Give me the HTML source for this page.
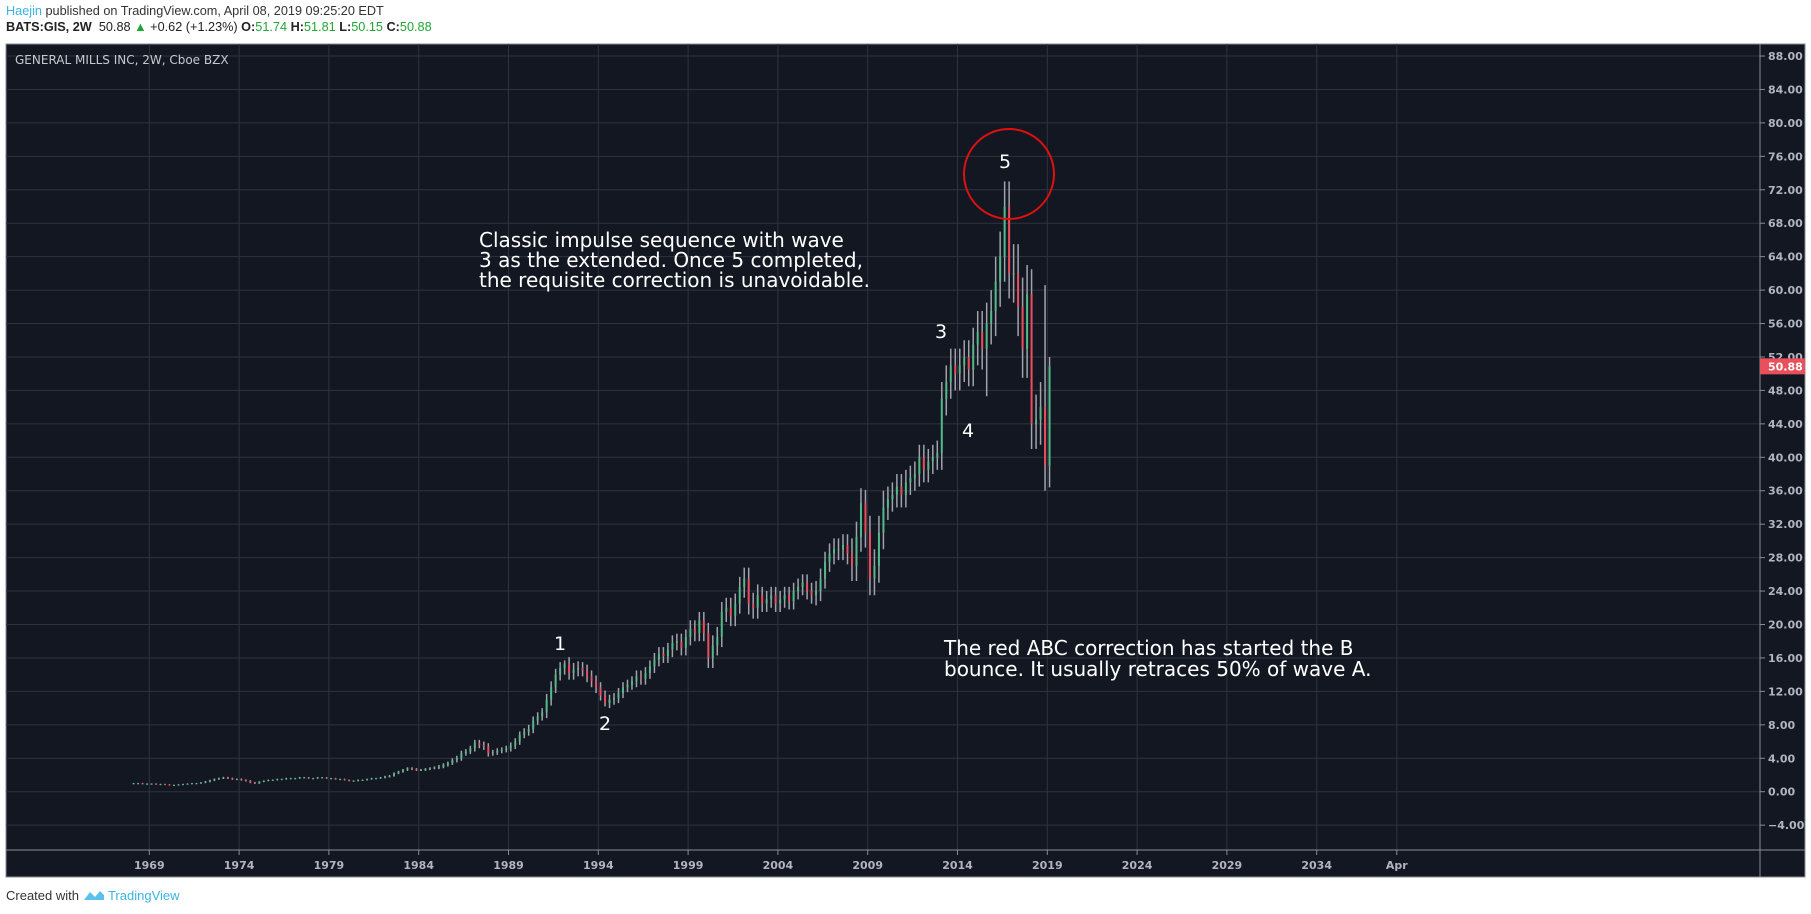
<!DOCTYPE html>
<html><head><meta charset="utf-8">
<style>
html,body{margin:0;padding:0;background:#fff;width:1811px;height:914px;overflow:hidden;font-family:"Liberation Sans",sans-serif;}
#hdr1{position:absolute;left:6px;top:4px;font-size:12.7px;color:#333;}
#hdr2{position:absolute;left:6px;top:20px;font-size:12.7px;color:#222;}
#foot{position:absolute;left:6px;top:888px;font-size:13px;color:#333;}
.g{color:#1ea634}
svg{position:absolute;left:0;top:0}
</style></head><body>
<div id="hdr1"><span style="color:#3bb3e4">Haejin</span> published on TradingView.com, April 08, 2019 09:25:20 EDT</div>
<div id="hdr2"><b>BATS:GIS, 2W</b>&nbsp; 50.88 <span class="g">&#9650;</span> +0.62 (+1.23%) <b>O:</b><span class="g">51.74</span> <b>H:</b><span class="g">51.81</span> <b>L:</b><span class="g">50.15</span> <b>C:</b><span class="g">50.88</span></div>
<svg id="chart" width="1811" height="914"></svg>
<div id="foot">Created with <span style="color:#3bb3e4"><svg width="22" height="12" style="position:relative;top:1px;left:0" viewBox="0 0 22 12"><path d="M1 11 L7 3 L12 8 L17 2 L21 6 L21 11 Z" fill="#5bc0eb"/></svg> TradingView</span></div>
<script>
// quarterly closes 1968Q1 .. 2019Q1
const closes = [
1.0,1.0,0.95,0.95, 0.95,0.9,0.9,0.85, 0.8,0.8,0.85,0.9, 0.95,1.0,1.0,1.1,
1.2,1.35,1.5,1.6, 1.7,1.6,1.5,1.5, 1.4,1.3,1.1,1.0, 1.2,1.3,1.4,1.4,
1.5,1.5,1.6,1.6, 1.6,1.7,1.7,1.6, 1.6,1.7,1.7,1.6, 1.6,1.5,1.5,1.4,
1.3,1.3,1.4,1.4, 1.5,1.6,1.6,1.7, 1.8,1.9,2.2,2.4, 2.6,2.8,2.7,2.6,
2.6,2.7,2.8,2.9, 3.0,3.2,3.4,3.8, 4.0,4.6,4.8,5.2, 5.8,5.6,5.4,4.6,
4.7,4.9,5.0,5.2, 5.5,6.0,6.8,7.2, 7.5,8.5,9.0,9.5, 11.0,12.5,14.0,14.8,
15.3,14.2,14.6,14.8, 14.5,13.8,13.2,12.5, 11.5,10.6,11.0,11.2, 11.8,12.5,12.8,13.2,
13.8,13.5,14.2,15.0, 15.8,16.5,16.2,17.0, 17.8,18.0,17.2,18.5, 19.5,19.0,20.5,19.0,
16.0,17.5,18.5,21.5, 22.0,21.0,22.5,24.5, 25.5,22.5,22.0,23.5, 22.5,23.0,23.5,22.5,
23.0,23.5,22.8,24.0, 24.5,25.0,24.0,23.5, 24.0,25.5,27.5,28.5, 29.0,29.0,29.5,28.5,
27.0,30.5,34.5,31.0, 25.5,27.0,31.0,34.0, 35.0,35.5,36.5,35.5, 37.0,37.5,38.0,40.0,
38.5,39.5,40.0,40.5, 47.0,49.0,51.0,50.0, 51.0,52.0,50.5,53.5, 55.0,53.0,56.0,57.5,
61.0,64.0,70.0,62.0, 62.0,58.0,53.0,59.5, 44.0,44.5,46.0,39.0, 50.88];
// typical wick size per year 1968..2019
const wickByYear = [0.05,0.05,0.05,0.05,0.08,0.08,0.08,0.06,0.06,0.06,0.06,0.06,0.06,0.06,0.1,0.12,
0.12,0.2,0.3,0.4,0.3,0.4,0.5,0.7,0.8,0.7,0.6,0.6,0.7,0.8,0.9,1.0,1.2,1.2,1.3,1.0,1.0,1.0,1.2,1.3,
1.8,2.0,1.5,1.5,1.5,2.0,2.0,2.5,3.0,3.5,3.0,1.0];
const extremeIdx = [96,105,163,162,190,194,195,203,204];
const extremeHigh = [15.7,null,36.1,null,null,73.0,null,60.6,52.0];
const extremeLow = [null,10.2,null,null,47.3,null,null,null,36.4];
const priceTicks = [-4,0,4,8,12,16,20,24,28,32,36,40,44,48,52,56,60,64,68,72,76,80,84,88];
const yearTicks = ["1969","1974","1979","1984","1989","1994","1999","2004","2009","2014","2019","2024","2029","2034"];
const lastPrice = 50.88;

const NS="http://www.w3.org/2000/svg";
const svg=document.getElementById('chart');
const L=6,T=44,R=1805,B=877,PA=1760,TA=850;
function y(p){return 457.3-(p-40)*8.36;}
function x(yr){return 149.3+(yr-1969)*17.96;}
function mk(tag,attrs,parent){const e=document.createElementNS(NS,tag);for(const k in attrs)e.setAttribute(k,attrs[k]);(parent||svg).appendChild(e);return e;}

const bg=mk('rect',{x:L,y:T,width:R-L,height:B-T,fill:'#131722',stroke:'#8a8d94','stroke-width':1});



const grid=mk('g',{});


priceTicks.forEach(p=>{
  const yy=y(p);
  mk('line',{x1:L,x2:PA,y1:yy,y2:yy,stroke:'#2f3340','stroke-width':1},grid);
  mk('line',{x1:PA,x2:PA+5,y1:yy,y2:yy,stroke:'#8a8d94','stroke-width':1},grid);
  const t=mk('text',{x:PA+8,y:yy+4,fill:'#b2b5be','font-size':11,'font-weight':'bold','font-family':'"DejaVu Sans",sans-serif'});
  t.textContent=p.toFixed(2).replace('-','−');
  
  
});
const timeLabels=yearTicks.map(s=>[parseInt(s),s]).concat([[2038.46,'Apr']]);
timeLabels.forEach(([yr,s])=>{
  const xx=x(yr);
  mk('line',{x1:xx,x2:xx,y1:T,y2:TA,stroke:'#2f3340','stroke-width':1},grid);
  mk('line',{x1:xx,x2:xx,y1:TA,y2:TA+5,stroke:'#8a8d94','stroke-width':1},grid);
  const t=mk('text',{x:xx,y:TA+19,fill:'#b2b5be','font-size':11,'font-weight':'bold','text-anchor':'middle','font-family':'"DejaVu Sans",sans-serif'});
  t.textContent=s;
  
  
});
mk('line',{x1:PA,x2:PA,y1:T,y2:B,stroke:'#8a8d94','stroke-width':1});
mk('line',{x1:L,x2:R,y1:TA,y2:TA,stroke:'#8a8d94','stroke-width':1});

const bars=mk('g',{});


for(let i=0;i<closes.length;i++){
  const c=closes[i], o=i>0?closes[i-1]:c;
  const yr=1968+i*0.25+0.125;
  const w=wickByYear[Math.floor(i/4)]||0.5;
  let hi=Math.max(o,c)+w, lo=Math.min(o,c)-w;
  const k=extremeIdx.indexOf(i);
  if(k>=0){ if(extremeHigh[k]!==null)hi=extremeHigh[k]; if(extremeLow[k]!==null)lo=extremeLow[k]; }
  const col=c>=o?'#53b987':'#eb4d5c';
  const xx=x(yr);
  const wk=mk('line',{x1:xx,x2:xx,y1:y(hi),y2:y(lo),stroke:'#a0a3aa','stroke-width':1.5},bars);
  
  
  const top=y(Math.max(o,c)),bot=y(Math.min(o,c));
  const bd=mk('rect',{x:xx-1,y:top,width:2,height:Math.max(1,bot-top),fill:col},bars);
  
  
}

const pl=mk('rect',{x:PA,y:y(lastPrice)-8,width:R-PA,height:16,fill:'#e8505b'});


const plt=mk('text',{x:PA+8,y:y(lastPrice)+4,fill:'#fff','font-size':11,'font-weight':'bold','font-family':'"DejaVu Sans",sans-serif'});
plt.textContent=lastPrice.toFixed(2);



function txt(s,xx,yy,size,name,extra){
  const t=mk('text',Object.assign({x:xx,y:yy,fill:'#ffffff','font-size':size,'font-family':'"DejaVu Sans",sans-serif'},extra||{}));
  t.textContent=s;
  
  
  return t;
}
txt('GENERAL MILLS INC, 2W, Cboe BZX',15,64,12,'chart-title',{fill:'#c8cad0'});
txt('Classic impulse sequence with wave',479,247,20,'annotation-line-1');
txt('3 as the extended. Once 5 completed,',479,267,20,'annotation-line-2');
txt('the requisite correction is unavoidable.',479,287,20,'annotation-line-3');
txt('The red ABC correction has started the B',944,655,20,'annotation-b-line-1');
txt('bounce. It usually retraces 50% of wave A.',944,676,20,'annotation-b-line-2');
txt('5',1005,168,19,'wave-5-label',{'text-anchor':'middle'});
txt('3',941,338,19,'wave-3-label',{'text-anchor':'middle'});
txt('4',968,437,19,'wave-4-label',{'text-anchor':'middle'});
txt('1',560,650,19,'wave-1-label',{'text-anchor':'middle'});
txt('2',605,730,19,'wave-2-label',{'text-anchor':'middle'});
const circ=mk('circle',{cx:1009,cy:174,r:45,fill:'none',stroke:'#e01010','stroke-width':2});


</script>
</body></html>
